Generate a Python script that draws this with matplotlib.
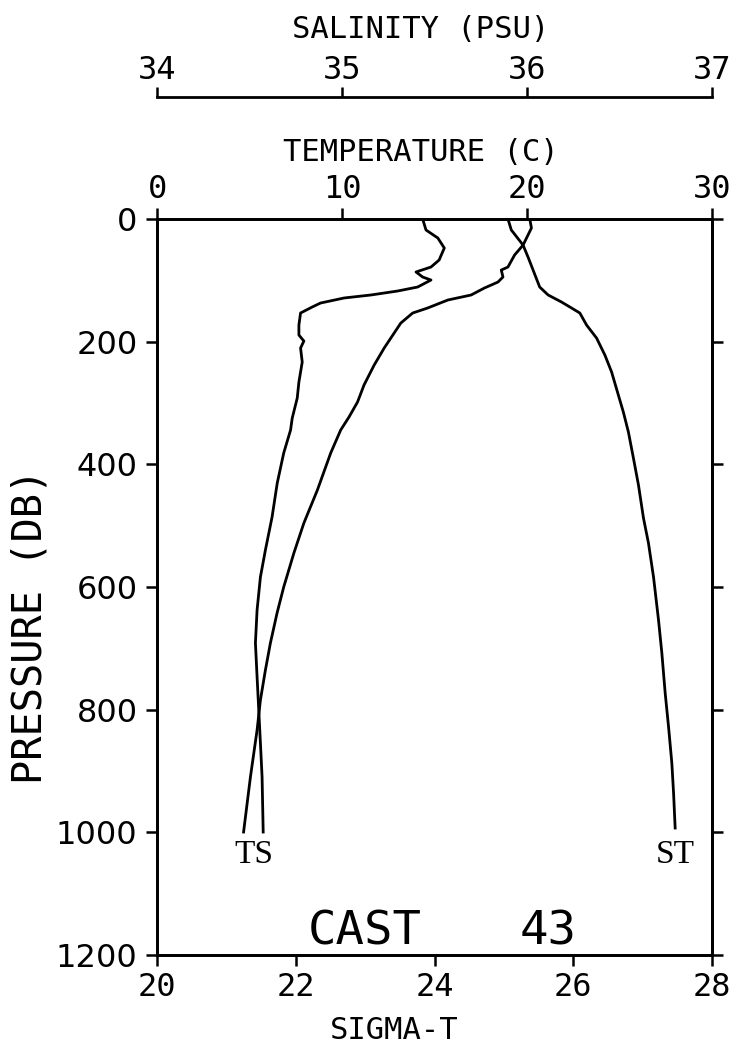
import matplotlib
matplotlib.use("Agg")
import matplotlib.pyplot as plt

# temperature profile (C) vs pressure (db)
t_pres = [0, 14.7, 42.4, 58.7, 78.3, 83.2, 94.6, 102.8, 112.5, 123.9, 132.1, 145.1, 153.3,
          169.6, 185.9, 210.4, 238.1, 270.7, 298.4, 322.8, 344, 381.5, 441.9, 495.7, 544.6,
          600, 642.4, 691.3, 735.4, 784.3, 833.2, 909.8, 999.5]
t_vals = [20.15, 20.24, 19.79, 19.33, 18.97, 18.61, 18.70, 18.43, 17.70, 16.98, 15.72, 14.63,
          13.82, 13.18, 12.82, 12.28, 11.74, 11.19, 10.84, 10.38, 9.93, 9.39, 8.67, 7.94, 7.40,
          6.85, 6.49, 6.13, 5.86, 5.59, 5.41, 5.05, 4.68]

# salinity profile (PSU)
s_pres = [0, 17.9, 31.0, 47.3, 66.9, 78.3, 86.4, 94.6, 99.5, 110.9, 117.4, 123.9, 128.8, 137,
          143.5, 153.3, 172.9, 189.2, 199, 210.4, 233.2, 265.9, 292, 324.6, 344, 381.5, 430.5,
          485.9, 539.7, 583.7, 637.5, 691.3, 746.8, 800.6, 854.4, 909.8, 999.5]
s_vals = [35.436, 35.454, 35.518, 35.553, 35.525, 35.481, 35.400, 35.436, 35.481, 35.409,
          35.301, 35.156, 35.011, 34.884, 34.839, 34.776, 34.767, 34.767, 34.794, 34.776,
          34.785, 34.767, 34.758, 34.731, 34.722, 34.685, 34.650, 34.622, 34.586, 34.559,
          34.541, 34.532, 34.541, 34.550, 34.559, 34.568, 34.574]

# sigma-t profile
st_pres = [0, 17.9, 42.4, 62, 83.2, 110.9, 123.9, 135.3, 145.1, 153.3, 172.9, 194.1, 221.8,
           249.5, 287, 314.7, 347.3, 389.7, 433.7, 487.5, 528.3, 583.7, 653.8, 707.6, 772.8,
           828.3, 887, 935.9, 993]
st_vals = [25.059, 25.107, 25.276, 25.348, 25.421, 25.516, 25.638, 25.830, 25.975, 26.095,
           26.192, 26.336, 26.456, 26.553, 26.650, 26.722, 26.795, 26.867, 26.940, 27.012,
           27.084, 27.157, 27.229, 27.277, 27.325, 27.374, 27.421, 27.446, 27.469]

pres_ticks = [0, 200, 400, 600, 800, 1000, 1200]
sig_ticks = [20, 22, 24, 26, 28]
temp_ticks = [0, 10, 20, 30]
sal_ticks = [34, 35, 36, 37]

plt.rcParams['font.family'] = 'DejaVu Sans Mono'
lw_axis = 2.0
lw_line = 2.0

fig = plt.figure(figsize=(7.4, 10.52), dpi=100)
ax = fig.add_axes([157/740, 1 - 955/1052, 555/740, 736/1052])

# sigma-t on the bottom axis
ax.plot(st_vals, st_pres, color='black', lw=lw_line)
ax.set_xlim(20, 28)
ax.set_ylim(1200, 0)
ax.set_xticks(sig_ticks)
ax.set_yticks(pres_ticks)
ax.tick_params(axis='x', direction='out', length=8, width=1.8, labelsize=23, pad=4)
ax.tick_params(axis='y', direction='out', length=8, width=1.8, right=True, pad=6)
for lab in ax.get_yticklabels():
    lab.set_family('DejaVu Sans')
    lab.set_fontsize(23)
for sp in ax.spines.values():
    sp.set_linewidth(lw_axis)
ax.set_xlabel('SIGMA-T', fontsize=22, va='center')
ax.xaxis.set_label_coords(0.428, -0.103)
ax.set_ylabel('PRESSURE (DB)', fontsize=29, va='center', fontweight='light')
ax.yaxis.set_label_coords(-0.228, 0.446)

# temperature on the top axis
axt = ax.twiny()
axt.plot(t_vals, t_pres, color='black', lw=lw_line)
axt.set_xlim(0, 30)
axt.set_xticks(temp_ticks)
axt.tick_params(axis='x', direction='out', length=8, width=1.8, labelsize=23, pad=2)
for sp in axt.spines.values():
    sp.set_linewidth(lw_axis)
axt.set_xlabel('TEMPERATURE (C)', fontsize=22, va='center')
axt.xaxis.set_label_coords(0.475, 1.091)

# salinity on a second top axis, moved up
axs = ax.twiny()
axs.plot(s_vals, s_pres, color='black', lw=lw_line)
axs.set_xlim(34, 37)
axs.set_xticks(sal_ticks)
axs.spines['top'].set_position(('outward', 88))
axs.spines['top'].set_linewidth(lw_axis)
for side in ['left', 'right', 'bottom']:
    axs.spines[side].set_visible(False)
axs.tick_params(axis='x', direction='out', length=7, width=1.8, labelsize=23, pad=1)
axs.set_xlabel('SALINITY (PSU)', fontsize=22, va='center')
axs.xaxis.set_label_coords(0.475, 1.2568)

# curve labels and cast number
ax.text(21.39, 1012, 'TS', ha='center', va='top', family='Liberation Serif', fontsize=24)
ax.text(27.47, 1012, 'ST', ha='center', va='top', family='Liberation Serif', fontsize=24)
ax.text(0.272, 0.0136, 'CAST', transform=ax.transAxes, ha='left', va='baseline', fontsize=34)
ax.text(0.654, 0.0136, '43', transform=ax.transAxes, ha='left', va='baseline', fontsize=34)

fig.savefig('out.png', dpi=100)
